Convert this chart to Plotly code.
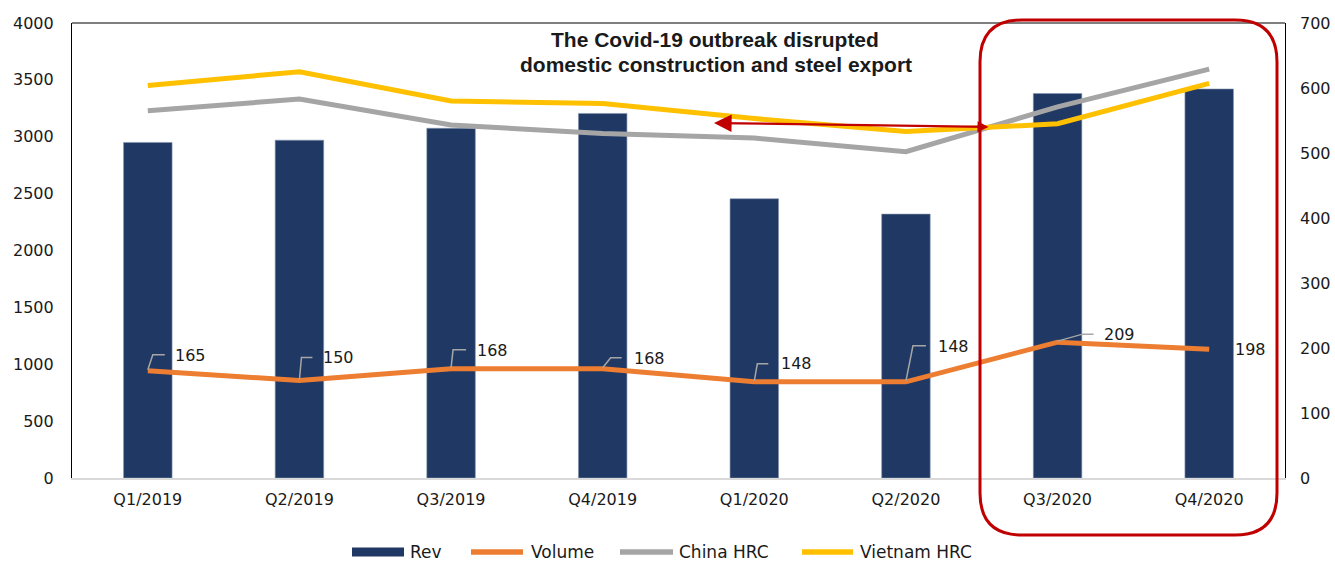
import plotly.graph_objects as go

# ---------------- data ----------------
categories = ["Q1/2019", "Q2/2019", "Q3/2019", "Q4/2019",
              "Q1/2020", "Q2/2020", "Q3/2020", "Q4/2020"]
rev = [2950, 2970, 3075, 3205, 2455, 2320, 3380, 3420]
volume = [165, 150, 168, 168, 148, 148, 209, 198]
china_hrc = [565, 583, 543, 530, 523, 502, 571, 629]
vietnam_hrc = [604, 625, 580, 576, 553, 533, 545, 607]
left_ticks = [0, 500, 1000, 1500, 2000, 2500, 3000, 3500, 4000]
right_ticks = [0, 100, 200, 300, 400, 500, 600, 700]
series_names = ["Rev", "Volume", "China HRC", "Vietnam HRC"]

# ---------------- styles ----------------
W, H = 1335, 561
ML, MR, MT, MB = 72, 50, 23, 83
PW, PH = W - ML - MR, H - MT - MB
NAVY, ORANGE, GRAY, YELLOW, RED = "#203864", "#ED7D31", "#A5A5A5", "#FFC000", "#C00000"
TXT = "#1a1a1a"
FONT = "DejaVu Sans"
series_colors = [NAVY, ORANGE, GRAY, YELLOW]

# label offsets (pixels) for volume labels & leader lines
lab_dx = [25, 22, 24, 29, 25, 30, 44, 24]
lab_dy = [15, 23, 18, 10, 18, 35, 8, 0]
lead_ex = [5, 2, 2, 8, 3, 7, 25, None]
lead_ey = [16, 23, 19, 11, 18, 36, 8, None]
lead_end = [17, 13, 15, 19, 14, 20, 36, None]

# manual legend geometry (pixels)
leg_sw_x0 = [352, 471, 620, 802]
leg_sw_x1 = [404, 523, 673, 853]
leg_sw_w = [9, 5.5, 5.5, 5.5]
leg_txt_x = [408, 529, 677, 858]
leg_y = 552


def px(x):
    return (x - ML) / PW


def py(y):
    return (MT + PH - y) / PH


xs = list(range(len(categories)))

fig = go.Figure()
fig.add_trace(go.Bar(x=xs, y=rev, name=series_names[0],
                     marker=dict(color=NAVY, line=dict(color="#8497B0", width=0.6)),
                     width=0.32, yaxis="y"))
fig.add_trace(go.Scatter(x=xs, y=volume, mode="lines", name=series_names[1],
                         line=dict(color=ORANGE, width=5), yaxis="y2"))
fig.add_trace(go.Scatter(x=xs, y=china_hrc, mode="lines", name=series_names[2],
                         line=dict(color=GRAY, width=5), yaxis="y2"))
fig.add_trace(go.Scatter(x=xs, y=vietnam_hrc, mode="lines", name=series_names[3],
                         line=dict(color=YELLOW, width=5), yaxis="y2"))

annotations = []
shapes = []
for i, v in enumerate(volume):
    annotations.append(dict(x=xs[i], y=v, xref="x", yref="y2", text=str(v), showarrow=False,
                            xanchor="left", yanchor="middle", xshift=lab_dx[i], yshift=lab_dy[i],
                            font=dict(family=FONT, size=16, color=TXT)))
    if lead_ex[i] is not None:
        shapes.append(dict(type="path", xref="x", yref="y2", xsizemode="pixel", ysizemode="pixel",
                           xanchor=xs[i], yanchor=v,
                           path=f"M 0,1 L {lead_ex[i]},{lead_ey[i]} L {lead_end[i]},{lead_ey[i]}",
                           line=dict(color="#A6A6A6", width=1.5)))

# title text box
annotations.append(dict(x=px(715), y=py(40), xref="paper", yref="paper", showarrow=False,
                        text="<b>The Covid-19 outbreak disrupted</b>", xanchor="center", yanchor="middle",
                        font=dict(family="Liberation Sans", size=21, color=TXT)))
annotations.append(dict(x=px(716), y=py(64), xref="paper", yref="paper", showarrow=False,
                        text="<b>domestic construction and steel export</b>", xanchor="center", yanchor="middle",
                        font=dict(family="Liberation Sans", size=21, color=TXT)))
# red arrow
annotations.append(dict(x=px(714), y=py(123), xref="paper", yref="paper", text="", showarrow=True,
                        ax=276, ay=4, axref="pixel", ayref="pixel", arrowhead=2, arrowsize=1.6,
                        arrowwidth=2.2, arrowcolor=RED, arrowside="end+start", startarrowhead=2,
                        startarrowsize=1.0, standoff=0, startstandoff=0))

# top frame line
shapes.append(dict(type="line", xref="paper", yref="paper", x0=0, x1=1, y0=1, y1=1,
                   line=dict(color="#000000", width=1.2)))

# rounded highlight box
x0, x1, y0, y1, r = 980, 1277, 20, 535, 42
path = (f"M {px(x0 + r)},{py(y0)} L {px(x1 - r)},{py(y0)} Q {px(x1)},{py(y0)} {px(x1)},{py(y0 + r)} "
        f"L {px(x1)},{py(y1 - r)} Q {px(x1)},{py(y1)} {px(x1 - r)},{py(y1)} "
        f"L {px(x0 + r)},{py(y1)} Q {px(x0)},{py(y1)} {px(x0)},{py(y1 - r)} "
        f"L {px(x0)},{py(y0 + r)} Q {px(x0)},{py(y0)} {px(x0 + r)},{py(y0)} Z")
shapes.append(dict(type="path", xref="paper", yref="paper", path=path,
                   line=dict(color=RED, width=3), fillcolor="rgba(0,0,0,0)"))

# manual legend
for i, name in enumerate(series_names):
    shapes.append(dict(type="line", xref="paper", yref="paper",
                       x0=px(leg_sw_x0[i]), x1=px(leg_sw_x1[i]), y0=py(leg_y), y1=py(leg_y),
                       line=dict(color=series_colors[i], width=leg_sw_w[i])))
    annotations.append(dict(x=px(leg_txt_x[i]), y=py(leg_y), xref="paper", yref="paper", text=name,
                            showarrow=False, xanchor="left", yanchor="middle",
                            font=dict(family=FONT, size=17, color=TXT)))

fig.update_layout(
    width=W, height=H,
    margin=dict(l=ML, r=MR, t=MT, b=MB, pad=0, autoexpand=False),
    paper_bgcolor="white", plot_bgcolor="white",
    showlegend=False,
    xaxis=dict(range=[-0.5, len(categories) - 0.5], tickmode="array", tickvals=xs, ticktext=categories,
               showgrid=False, zeroline=False, showline=True, linecolor="#D9D9D9", linewidth=1.5,
               ticks="", ticklabelstandoff=6, automargin=False,
               tickfont=dict(family=FONT, size=16, color=TXT)),
    yaxis=dict(range=[0, 4000], tickmode="array", tickvals=left_ticks, showgrid=False, zeroline=False,
               showline=True, linecolor="#000000", linewidth=1.2, mirror=True, ticks="", automargin=False,
               ticklabelstandoff=14, tickfont=dict(family=FONT, size=16, color=TXT)),
    yaxis2=dict(range=[0, 700], tickmode="array", tickvals=right_ticks, overlaying="y", side="right",
                showgrid=False, zeroline=False, showline=False, ticks="", ticklabelstandoff=14,
                automargin=False, tickfont=dict(family=FONT, size=16, color=TXT)),
    annotations=annotations,
    shapes=shapes,
)

fig.write_html("out.html", config={"displayModeBar": False},
               post_script="document.body.style.margin='0px';document.body.style.padding='0px';")
